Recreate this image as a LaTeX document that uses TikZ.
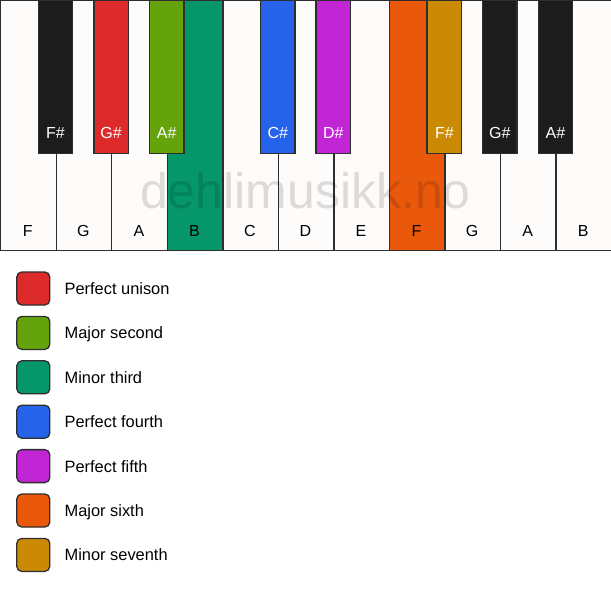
\documentclass[tikz,border=0pt]{standalone}
\usepackage{fontspec}
\setmainfont{Liberation Sans}
\usetikzlibrary{positioning}

\definecolor{keyivory}{HTML}{FDFCFA}
\definecolor{keyblack}{HTML}{1C1C1C}
\definecolor{keyline}{HTML}{2E2E2E}
\definecolor{unisonred}{HTML}{DD2A2A}
\definecolor{secondgreen}{HTML}{65A30D}
\definecolor{thirdteal}{HTML}{059669}
\definecolor{fourthblue}{HTML}{2563EB}
\definecolor{fifthpurple}{HTML}{C026D3}
\definecolor{sixthorange}{HTML}{EA580C}
\definecolor{seventhgold}{HTML}{CA8A04}

\tikzset{
  whitekey/.style={draw=keyline, line width=1.4pt, anchor=north west,
    minimum width=55.545pt, minimum height=250pt, inner sep=0pt},
  blackkey/.style={draw=keyline, line width=1.4pt, anchor=north,
    minimum width=34.5pt, minimum height=153pt, inner sep=0pt},
  keyname/.style={font=\fontsize{16}{18}\selectfont, inner sep=0pt, anchor=base},
  legendbox/.style={draw=keyline, line width=1.3pt, rounded corners=5pt,
    minimum size=33pt, inner sep=0pt},
  legendtext/.style={font=\fontsize{16.4}{19}\selectfont, inner sep=0pt, anchor=base west}
}

\begin{document}
\begin{tikzpicture}[x=1pt, y=-1pt]
\useasboundingbox (0,0) rectangle (611,594);
% white keys
\foreach \l/\c [count=\i from 0] in {F/keyivory, G/keyivory, A/keyivory, B/thirdteal, C/keyivory, D/keyivory, E/keyivory, F/sixthorange, G/keyivory, A/keyivory, B/keyivory}
{
  \node[whitekey, fill=\c] (w\i) at (\i*55.545,0) {};
  \node[keyname] (wl\i) at (\i*55.545+27.77,236) {\l};
}
% black keys
\foreach \k/\l/\c in {1/F\#/keyblack, 2/G\#/unisonred, 3/A\#/secondgreen, 5/C\#/fourthblue, 6/D\#/fifthpurple, 8/F\#/seventhgold, 9/G\#/keyblack, 10/A\#/keyblack}
{
  \node[blackkey, fill=\c] (b\k) at (\k*55.545,0) {};
  \node[keyname, text=white] (bl\k) at (\k*55.545,139) {\l};
}
% watermark
\node[font=\fontsize{50}{52}\selectfont, text=black, text opacity=0.13, inner sep=0pt, anchor=base] (mark) at (305.5,208) {dehlimusikk.no};
% legend
\foreach \t/\c [count=\j from 0] in {Perfect unison/unisonred, Major second/secondgreen, Minor third/thirdteal, Perfect fourth/fourthblue, Perfect fifth/fifthpurple, Major sixth/sixthorange, Minor seventh/seventhgold}
{
  \node[legendbox, fill=\c] (box\j) at (33.3,288.5+\j*44.4) {};
  \node[legendtext] (txt\j) at ([xshift=14pt, yshift=-6pt]box\j.east) {\t};
}
\end{tikzpicture}
\end{document}
